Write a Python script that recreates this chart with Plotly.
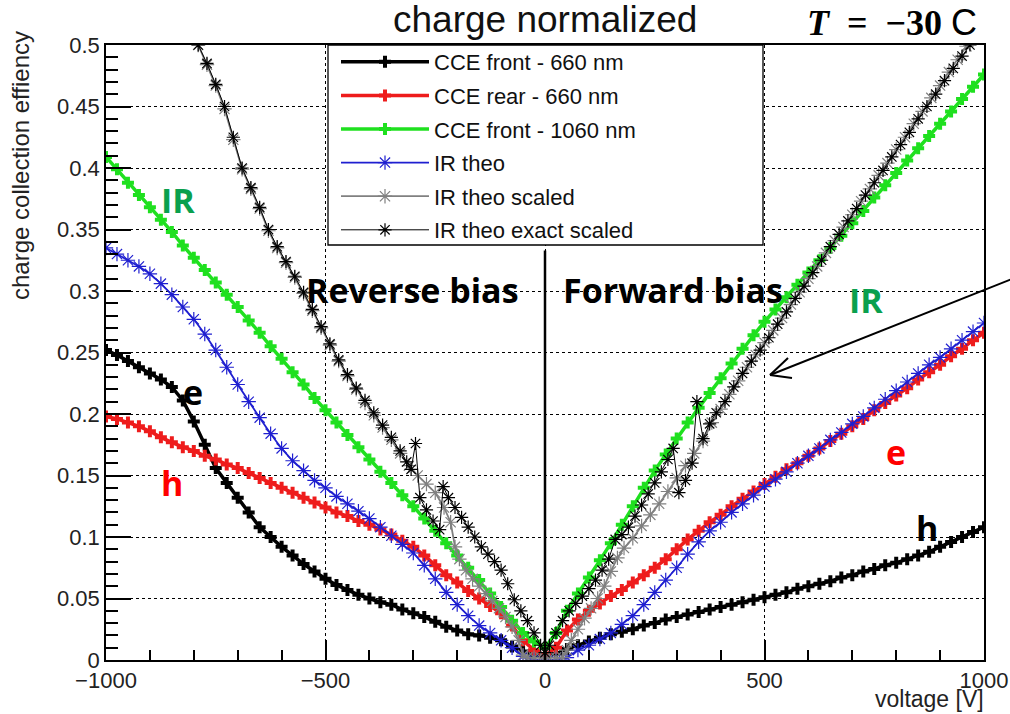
import plotly.graph_objects as go

# ---------------- data ----------------
V = list(range(-1000, 1001, 25))  # voltage grid of the measured curves [V]

cce_front_660 = [0.252, 0.248, 0.243, 0.238, 0.233, 0.228, 0.222, 0.211, 0.194, 0.175,
                 0.156, 0.144, 0.132, 0.120, 0.108, 0.100, 0.092, 0.085, 0.078, 0.072,
                 0.066, 0.061, 0.057, 0.053, 0.050, 0.047, 0.045, 0.041, 0.038, 0.035,
                 0.031, 0.027, 0.024, 0.021, 0.020, 0.018, 0.016, 0.011, 0.007, 0.004,
                 0.003,
                 0.005, 0.009, 0.012, 0.015, 0.018, 0.021, 0.023, 0.025, 0.028, 0.030,
                 0.033, 0.035, 0.037, 0.039, 0.041, 0.043, 0.045, 0.047, 0.049, 0.051,
                 0.053, 0.055, 0.058, 0.060, 0.062, 0.064, 0.067, 0.069, 0.072, 0.074,
                 0.077, 0.079, 0.082, 0.085, 0.088, 0.092, 0.096, 0.100, 0.104, 0.108]

cce_rear_660 = [0.198, 0.196, 0.193, 0.190, 0.186, 0.181, 0.177, 0.173, 0.170, 0.166,
                0.163, 0.159, 0.156, 0.152, 0.148, 0.144, 0.140, 0.136, 0.132, 0.128,
                0.124, 0.120, 0.117, 0.113, 0.110, 0.106, 0.102, 0.097, 0.092, 0.085,
                0.077, 0.069, 0.063, 0.056, 0.050, 0.044, 0.038, 0.028, 0.016, 0.008,
                0.004,
                0.010, 0.024, 0.033, 0.040, 0.046, 0.052, 0.057, 0.063, 0.069, 0.075,
                0.082, 0.090, 0.098, 0.105, 0.112, 0.118, 0.125, 0.131, 0.137, 0.143,
                0.149, 0.155, 0.160, 0.166, 0.172, 0.178, 0.184, 0.190, 0.196, 0.203,
                0.209, 0.215, 0.221, 0.228, 0.234, 0.240, 0.247, 0.253, 0.260, 0.266]

cce_front_1060 = [0.409, 0.399, 0.388, 0.378, 0.368, 0.358, 0.348, 0.337, 0.327, 0.317,
                  0.307, 0.297, 0.287, 0.276, 0.266, 0.255, 0.245, 0.234, 0.224, 0.213,
                  0.203, 0.193, 0.183, 0.173, 0.163, 0.153, 0.144, 0.134, 0.125, 0.115,
                  0.105, 0.095, 0.085, 0.075, 0.065, 0.054, 0.043, 0.032, 0.022, 0.015,
                  0.010,
                  0.022, 0.040, 0.054, 0.067, 0.081, 0.095, 0.110, 0.125, 0.140, 0.154,
                  0.167, 0.180, 0.193, 0.205, 0.217, 0.229, 0.241, 0.253, 0.264, 0.275,
                  0.285, 0.295, 0.305, 0.315, 0.325, 0.335, 0.345, 0.355, 0.365, 0.376,
                  0.386, 0.396, 0.406, 0.416, 0.426, 0.436, 0.446, 0.456, 0.466, 0.476]

ir_theo = [0.335, 0.330, 0.325, 0.320, 0.314, 0.306, 0.297, 0.287, 0.277, 0.265,
           0.252, 0.238, 0.224, 0.210, 0.197, 0.184, 0.172, 0.162, 0.154, 0.146,
           0.140, 0.133, 0.127, 0.121, 0.115, 0.108, 0.101, 0.094, 0.087, 0.077,
           0.066, 0.055, 0.045, 0.036, 0.028, 0.022, 0.016, 0.010, 0.003, 0.000,
           0.000,
           0.000, 0.002, 0.008, 0.012, 0.017, 0.022, 0.029, 0.036, 0.045, 0.055,
           0.065, 0.075, 0.086, 0.096, 0.105, 0.112, 0.120, 0.127, 0.134, 0.141,
           0.147, 0.153, 0.160, 0.166, 0.172, 0.179, 0.185, 0.192, 0.198, 0.205,
           0.212, 0.219, 0.226, 0.233, 0.240, 0.246, 0.253, 0.260, 0.267, 0.274]

scaled_V = [-790, -770, -750, -730, -710, -690, -670, -650, -630, -610, -590, -570,
            -550, -530, -510, -490, -470, -450, -430, -410, -390, -370, -350, -330,
            -310, -290, -270, -250, -230, -215, -205, -195, -180, -165, -150, -135,
            -120, -105, -90, -75, -60, -50, -40, -25, -10, 0,
            10, 25, 40, 50, 60, 75, 90, 105, 120, 135, 150, 165, 180, 200, 220, 240,
            260, 280, 300, 320, 340, 360, 380, 400, 420, 440, 460, 480, 500, 520, 540,
            560, 580, 600, 620, 640, 660, 680, 700, 720, 740, 760, 780, 800, 820, 840,
            860, 880, 900, 920, 940, 960]
ir_theo_scaled = [0.500, 0.484, 0.467, 0.448, 0.423, 0.399, 0.383, 0.367, 0.349, 0.335,
                  0.323, 0.311, 0.298, 0.284, 0.270, 0.256, 0.243, 0.231, 0.220, 0.209,
                  0.199, 0.189, 0.179, 0.168, 0.158, 0.150, 0.143, 0.136, 0.124, 0.112,
                  0.092, 0.082, 0.073, 0.066, 0.060, 0.054, 0.048, 0.042, 0.035, 0.027,
                  0.016, 0.004, 0.002, 0.002, 0.002, 0.002,
                  0.002, 0.002, 0.002, 0.008, 0.016, 0.025, 0.034, 0.042, 0.050, 0.060,
                  0.072, 0.083, 0.091, 0.099, 0.109, 0.118, 0.127, 0.137, 0.148, 0.158,
                  0.168, 0.178, 0.193, 0.204, 0.216, 0.227, 0.238, 0.248, 0.258, 0.268,
                  0.278, 0.289, 0.299, 0.310, 0.320, 0.331, 0.341, 0.352, 0.362, 0.373,
                  0.383, 0.394, 0.404, 0.415, 0.425, 0.436, 0.446, 0.457, 0.467, 0.478,
                  0.488, 0.499]

exact_V = [-790, -770, -750, -730, -710, -690, -670, -650, -630, -610, -590, -570,
           -550, -530, -510, -490, -470, -450, -430, -410, -390, -370, -350, -330,
           -315, -305, -295, -285, -270, -255, -240, -232, -220, -205, -190, -175,
           -160, -145, -130, -115, -100, -85, -70, -55, -40, -25, -10, 0,
           10, 25, 40, 55, 70, 85, 100, 115, 130, 145, 160, 175, 190, 205, 220, 235,
           250, 265, 280, 292, 305, 320, 335, 346, 360, 375, 390, 410, 430, 450, 470,
           490, 510, 530, 550, 570, 590, 610, 630, 650, 670, 690, 710, 730, 750, 770,
           790, 810, 830, 850, 870, 890, 910, 930, 950, 968]
ir_theo_exact_scaled = [0.500, 0.485, 0.468, 0.450, 0.425, 0.400, 0.384, 0.368, 0.350,
                        0.336, 0.324, 0.312, 0.299, 0.285, 0.271, 0.257, 0.244, 0.232,
                        0.221, 0.211, 0.201, 0.191, 0.181, 0.170, 0.161, 0.155, 0.176,
                        0.132, 0.122, 0.113, 0.106, 0.141, 0.132, 0.124, 0.116, 0.108,
                        0.100, 0.092, 0.086, 0.080, 0.073, 0.062, 0.049, 0.040, 0.032,
                        0.022, 0.012, 0.006,
                        0.012, 0.022, 0.032, 0.040, 0.046, 0.052, 0.058, 0.065, 0.073,
                        0.082, 0.098, 0.102, 0.108, 0.117, 0.126, 0.135, 0.144, 0.153,
                        0.163, 0.172, 0.136, 0.146, 0.160, 0.210, 0.180, 0.192, 0.201,
                        0.210, 0.222, 0.233, 0.243, 0.252, 0.262, 0.273, 0.283, 0.294,
                        0.304, 0.315, 0.325, 0.336, 0.346, 0.357, 0.367, 0.378, 0.388,
                        0.398, 0.409, 0.419, 0.429, 0.440, 0.450, 0.460, 0.471, 0.481,
                        0.491, 0.500]

x_ticks = [-1000, -500, 0, 500, 1000]
y_ticks = [0, 0.05, 0.1, 0.15, 0.2, 0.25, 0.3, 0.35, 0.4, 0.45, 0.5]
y_tick_labels = ["0", "0.05", "0.1", "0.15", "0.2", "0.25", "0.3", "0.35", "0.4", "0.45", "0.5"]

# ---------------- figure ----------------
FONT = "Liberation Sans"
BOLD = "Open Sans"
fig = go.Figure()

def add(name, x, y, color, symbol, msize, mline, lwidth, group):
    fig.add_trace(go.Scatter(
        x=x, y=y, name=name, mode="lines+markers", legendgroup=group,
        line=dict(color=color, width=lwidth),
        marker=dict(symbol=symbol, size=msize, color=color,
                    line=dict(color=color, width=mline)),
    ))

add("CCE front - 660 nm", V, cce_front_660, "#000000", "cross", 10, 0, 3.5, "a")
add("CCE rear - 660 nm", V, cce_rear_660, "#ee1c1c", "cross", 10, 0, 3.5, "b")
add("CCE front - 1060 nm", V, cce_front_1060, "#1fe01f", "cross", 10, 0, 3.5, "c")
add("IR theo", V, ir_theo, "#1f1fd0", "asterisk-open", 12, 1.2, 1.8, "d")
add("IR theo scaled", scaled_V, ir_theo_scaled, "#808080", "asterisk-open", 12, 1.2, 1.8, "e")
add("IR theo exact scaled", exact_V, ir_theo_exact_scaled, "#000000", "asterisk-open", 11, 1.2, 1.0, "f")

# paper helpers: plot area spans px 106..984 horizontally and 45..660 vertically
def px(x):
    return (x - 106) / 878.0

def py(y):
    return (660 - y) / 615.0

shapes = [
    # legend frame (white box behind the legend entries)
    dict(type="rect", xref="paper", yref="paper", x0=px(328), x1=px(763),
         y0=py(245), y1=py(45), layer="above", fillcolor="white",
         line=dict(color="black", width=1.3)),
    # vertical separator at 0 V
    dict(type="line", xref="x", yref="y", x0=0, x1=0, y0=0, y1=0.333,
         line=dict(color="black", width=2.5)),
    # arrow shaft and open head
    dict(type="line", xref="paper", yref="paper", x0=px(1012), y0=py(279),
         x1=px(770), y1=py(375), line=dict(color="black", width=2)),
    dict(type="line", xref="paper", yref="paper", x0=px(770), y0=py(375),
         x1=px(792), y1=py(378), line=dict(color="black", width=2)),
    dict(type="line", xref="paper", yref="paper", x0=px(770), y0=py(375),
         x1=px(788), y1=py(358), line=dict(color="black", width=2)),
]

GREEN_T = "#0aa04e"
RED_T = "#ff0000"
ann = []

def label(text, x, y, color, size=34):
    ann.append(dict(text=f"<b>{text}</b>", x=x, y=y, xref="x", yref="y", showarrow=False,
                    font=dict(family=BOLD, size=size, color=color),
                    xanchor="center", yanchor="middle"))

label("IR", -836, 0.374, GREEN_T)
label("e", -802, 0.218, "black")
label("h", -850, 0.144, RED_T)
label("Reverse bias", -301, 0.301, "black")
label("Forward bias", 292, 0.301, "black")
label("IR", 731, 0.293, GREEN_T)
label("e", 800, 0.169, RED_T)
label("h", 870, 0.107, "black")

NB = "\u00a0"
ann.append(dict(text="charge normalized", x=0.5, y=py(20), xref="paper", yref="paper",
                showarrow=False, font=dict(family=FONT, size=37, color="#111"),
                xanchor="center", yanchor="middle"))
ann.append(dict(text=f"<b><i>T</i>{NB*2}={NB*2}−30</b>{NB}<span style='font-family:Liberation Sans'>C</span>",
                x=px(979), y=py(22), xref="paper",
                yref="paper", showarrow=False,
                font=dict(family="Liberation Serif", size=36, color="black"),
                xanchor="right", yanchor="middle"))
ann.append(dict(text="charge collection effiency", x=px(20), y=py(166), xref="paper",
                yref="paper", showarrow=False, textangle=-90,
                font=dict(family=FONT, size=24, color="#222"),
                xanchor="center", yanchor="middle"))
ann.append(dict(text="voltage [V]", x=px(986), y=py(699), xref="paper", yref="paper",
                showarrow=False, font=dict(family=FONT, size=23, color="#222"),
                xanchor="right", yanchor="middle"))

fig.update_layout(
    width=1010, height=714,
    margin=dict(l=106, r=26, t=45, b=54, autoexpand=False),
    paper_bgcolor="white", plot_bgcolor="white",
    showlegend=True,
    legend=dict(x=px(336), y=py(41), xanchor="left", yanchor="top",
                bgcolor="rgba(0,0,0,0)", borderwidth=0,
                font=dict(family=FONT, size=22, color="#111"),
                tracegroupgap=2, itemwidth=88),
    shapes=shapes, annotations=ann,
)

fig.update_xaxes(range=[-1000, 1000], tickvals=x_ticks, ticks="inside", ticklen=20,
                 tickwidth=1.5, tickcolor="black", showline=True, linecolor="black",
                 linewidth=1.5, mirror=True, zeroline=False, automargin=False,
                 showgrid=True, gridcolor="black", griddash="dot", gridwidth=1,
                 tickfont=dict(family=FONT, size=22, color="#222"),
                 minor=dict(dtick=100, ticks="inside", ticklen=10, tickcolor="black",
                            showgrid=False))
fig.update_yaxes(range=[0, 0.5], tickvals=y_ticks, ticktext=y_tick_labels,
                 ticks="inside", ticklen=25, tickwidth=1.5, tickcolor="black",
                 showline=True, linecolor="black", linewidth=1.5, mirror=True,
                 zeroline=False, showgrid=True, gridcolor="black", griddash="dot",
                 gridwidth=1, automargin=False,
                 tickfont=dict(family=FONT, size=22, color="#222"),
                 minor=dict(dtick=0.01, ticks="inside", ticklen=12, tickcolor="black",
                            showgrid=False))

fig.write_html("out.html")
